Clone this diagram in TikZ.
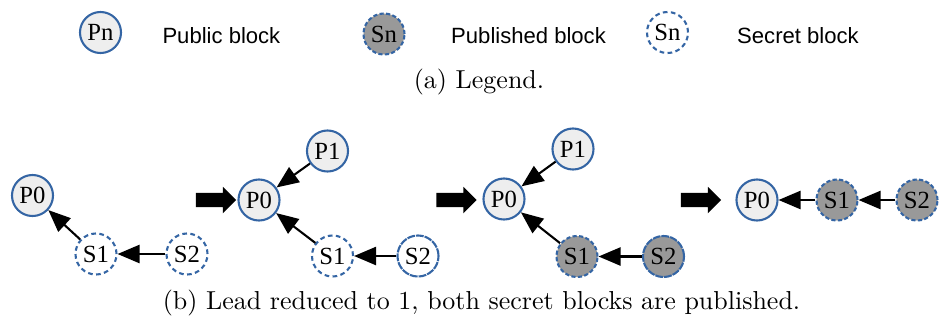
\documentclass[tikz,border=0pt]{standalone}
\usepackage{fontspec}
\newfontfamily\blockfont{Liberation Serif}
\newfontfamily\legendfont{Liberation Sans}
\usetikzlibrary{arrows.meta,shapes.arrows}
\definecolor{blockblue}{RGB}{52,101,164}
\definecolor{publicfill}{RGB}{238,238,238}
\definecolor{publishedfill}{RGB}{153,153,153}
\tikzset{
  block/.style={circle,draw=blockblue,line width=0.8pt,minimum size=15.8pt,
    inner sep=0pt,font=\blockfont\fontsize{9.5}{10}\selectfont},
  public/.style={block,fill=publicfill},
  secret/.style={block,dash pattern=on 1.8pt off 1.3pt},
  published/.style={block,fill=publishedfill,dash pattern=on 1.6pt off 0.9pt},
  fresh/.style={block,dash pattern=on 3pt off 0.4pt},
  link/.style={line width=0.8pt,-{Triangle[length=8.5pt,width=7pt]}},
  bigarrow/.style={single arrow,fill=black,inner xsep=0pt,inner ysep=2.5pt,
    single arrow head extend=2.4pt,minimum height=15.5pt},
  legendtext/.style={anchor=base west,inner sep=0pt,
    font=\legendfont\fontsize{8.5}{10}\selectfont},
}
\begin{document}
\begin{tikzpicture}[x=0.385pt,y=-0.385pt]
      \useasboundingbox (0,0) rectangle (939,320);
      % legend
      \node[public] (pn) at (100.5,32.5) {Pn};
      \node[legendtext] (pntext) at (162,43.3) {Public block};
      \node[published] (snp) at (384,34) {Sn};
      \node[legendtext] (snptext) at (450.7,43.3) {Published block};
      \node[secret] (sns) at (667.5,32.5) {Sn};
      \node[legendtext] (snstext) at (736.7,43.3) {Secret block};
      \node[anchor=base] (capa) at (479,88) {(a) Legend.};
      % step 1
      \node[public] (a0) at (32.5,195.5) {P0};
      \node[secret] (as1) at (96,254) {S1};
      \node[secret] (as2) at (187,254) {S2};
      \node[bigarrow] (ar1) at (212.5,200) {};
      % step 2
      \node[public] (b0) at (259,200) {P0};
      \node[public] (b1) at (327.5,151) {P1};
      \node[secret] (bs1) at (332.5,256) {S1};
      \node[fresh] (bs2) at (418,256) {S2};
      \node[bigarrow] (ar2) at (453,200) {};
      % step 3
      \node[public] (c0) at (504,199) {P0};
      \node[public] (c1) at (573,149) {P1};
      \node[published] (cs1) at (577,256.5) {S1};
      \node[fresh,fill=publishedfill] (cs2) at (663.5,256.5) {S2};
      \node[bigarrow] (ar3) at (697.5,200) {};
      % step 4
      \node[public] (d0) at (757,200) {P0};
      \node[published] (ds1) at (837,200) {S1};
      \node[published] (ds2) at (917,200) {S2};
      \node[anchor=base] (capb) at (481.5,309) {(b) Lead reduced to 1, both secret blocks are published.};
      \begin{scope}[link]
        \draw (as1) to (a0);
        \draw (as2) to (as1);
        \draw (b1) to (b0);
        \draw (bs1) to (b0);
        \draw (bs2) to (bs1);
        \draw (c1) to (c0);
        \draw (cs1) to (c0);
        \draw (cs2) to (cs1);
        \draw (ds1) to (d0);
        \draw (ds2) to (ds1);
      \end{scope}
    \end{tikzpicture}
\end{document}
